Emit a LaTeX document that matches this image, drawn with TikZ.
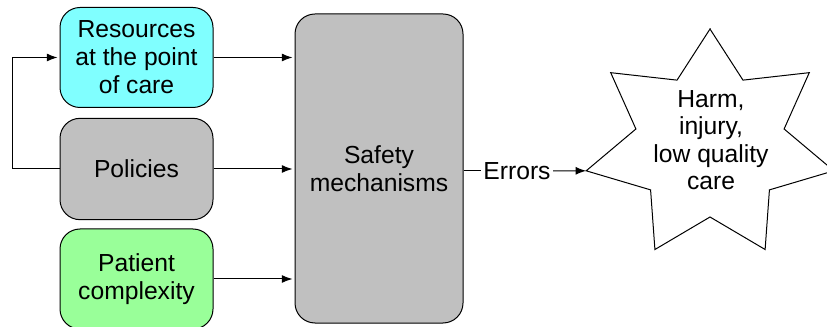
\documentclass[tikz,border=0pt]{standalone}
\usepackage{fontspec}
\setmainfont{Liberation Sans}
\usetikzlibrary{arrows.meta}

\definecolor{rescyan}{RGB}{128,255,255}
\definecolor{boxgray}{RGB}{192,192,192}
\definecolor{patgreen}{RGB}{153,255,153}

\tikzset{every picture/.style={line width=0.75pt}}
\tikzset{
	box/.style={draw, rounded corners=15pt, minimum width=114.75pt, minimum height=75pt, align=center, inner sep=1pt, font=\fontsize{18.5}{21}\selectfont},
	arr/.style={-{Latex[length=8pt,width=6pt]}, shorten >=1.5pt}
}

\begin{document}
\begin{tikzpicture}[x=0.75pt,y=0.75pt,yscale=-1,xscale=1]
		\useasboundingbox (0,0) rectangle (827,327);
		
		%inputs
		\node [box, fill=rescyan] (res) at (136.5,57.5) {Resources\\at the point\\of care};
		\node [box, fill=boxgray, minimum height=76pt] (pol) at (136.5,169) {Policies};
		\node [box, fill=patgreen] (pat) at (136.5,279) {Patient\\complexity};
		
		%Shape: middle box
		\node [box, fill=boxgray, minimum width=126pt, minimum height=231.75pt] (safety) at (379,168.5) {Safety\\mechanisms};
		
		%Shape: Star, 7 points
		\begin{scope}[shift={(710,145)}, yscale=-1]
			\draw [fill=white] (90:127 and 116) \foreach \k in {0,...,6} { -- ({115.71+\k*51.43}:76 and 72) -- ({141.43+\k*51.43}:127 and 116) } -- cycle;
			\coordinate (harmtip) at (192.86:127 and 116);
		\end{scope}
		\node [align=center, inner sep=0pt, font=\fontsize{18.5}{20.5}\selectfont] (harm) at (711,140) {Harm,\\injury,\\low quality\\care};
		
		\node [inner sep=1.5pt, font=\fontsize{18.5}{21}\selectfont] (errors) at (517,170.8) {Errors};
		
		\draw [arr] (res.east) -- (res.east -| safety.west);
		\draw [arr] (pol.east) -- (pol.east -| safety.west);
		\draw [arr] (pat.east) -- (pat.east -| safety.west);
		\draw [arr] (pol.west) -- ++(-47,0) |- (res.west);
		\draw (safety.east |- errors.west) -- (errors.west);
		\draw [arr, shorten >=0pt] (errors.east) -- (harmtip);
		
	\end{tikzpicture}
\end{document}
